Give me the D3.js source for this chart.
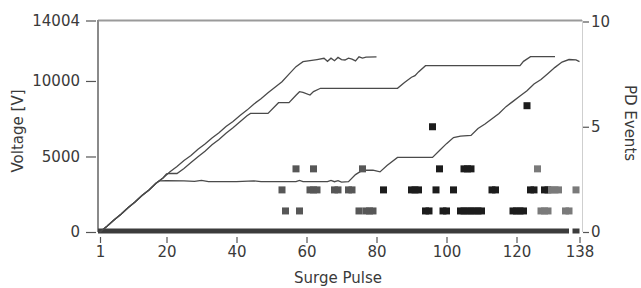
<!DOCTYPE html>
<html>
<head>
<meta charset="utf-8">
<script src="https://cdn.jsdelivr.net/npm/d3@7"></script>
<style>
  body { margin: 0; background: #fff; }
  svg { display: block; }
  text { font-family: "DejaVu Sans", sans-serif; fill: #3a3a3a; }
</style>
</head>
<body>
<div id="chart"></div>
<script>
// voltage curves, [pulse, volts]
var curve1 = [[1,0],[3,380],[5,790],[7,1170],[9,1600],[11,1980],[13,2420],[15,2780],[17,3230],[19,3580],
  [21,3990],[23,4330],[25,4740],[27,5060],[29,5480],[31,5820],[33,6230],[35,6570],[37,6980],[39,7320],
  [41,7720],[43,8070],[45,8480],[47,8820],[49,9220],[51,9580],[53,9950],[55,10450],[57,10950],[59,11280],
  [61,11350],[63,11420],[65,11500],[66,11300],[67,11510],[68,11340],[69,11560],[70,11420],[71,11390],
  [72,11510],[73,11450],[74,11330],[75,11600],[76,11520],[77,11580],[80,11600]];

var curve2 = [[1,0],[3,380],[5,790],[7,1170],[9,1600],[11,1980],[13,2420],[15,2780],[17,3230],[19,3580],
  [20,3850],[21,3880],[23,3875],[25,4210],[27,4600],[29,4990],[31,5350],[33,5780],[35,6130],[37,6540],
  [39,6900],[41,7300],[43,7700],[44,7856],[49,7856],[52,8560],[55,8560],[57,9050],[58,9290],[59,9250],
  [61,9071],[62,9300],[64,9516],[86,9516],[88,9900],[90,10250],[91,10350],[92,10600],[94,11015],
  [121,11015],[122,11300],[124,11612],[131,11612]];

var curve3 = [[1,0],[3,380],[5,790],[7,1170],[9,1600],[11,1980],[13,2420],[15,2780],[17,3230],[18,3380],
  [20,3400],[25,3380],[28,3350],[30,3420],[32,3340],[40,3330],[45,3380],[47,3330],[57,3330],[58,3420],
  [59,3330],[66,3330],[67,3420],[68,3330],[69,3400],[70,3300],[72,3330],[74,3800],[76,4090],[79,4090],
  [81,3980],[83,4400],[86,4937],[96,4937],[98,5400],[100,5850],[102,6250],[104,6350],[107,6400],
  [109,6850],[111,7150],[113,7500],[115,7850],[117,8300],[119,8650],[121,9000],[123,9350],[125,9800],
  [127,10100],[129,10500],[131,10900],[133,11250],[135,11420],[137,11400],[138,11280]];

// PD events [pulse, count]
var pdGray = [[57,3],[62,3],[76,3],[53,2],[61,2],[62,2],[63,2],[68,2],[69,2],[72,2],[73,2],
  [54,1],[58,1],[75,1],[77,1],[78,1],[79,1]];
var pdBlack = [[82,2],[90,2],[91,2],[92,2],[97,2],[102,2],[113,2],[114,2],[124,2],[125,2],[128,2],[129,2],
  [94,1],[95,1],[99,1],[100,1],[104,1],[105,1],[106,1],[107,1],[108,1],[109,1],[110,1],
  [119,1],[120,1],[121,1],[122,1],[98,3],[105,3],[106,3],[107,3],[96,5],[123,6]];
var pdLight = [[126,3],[130,2],[131,2],[132,2],[137,2],[127,1],[128,1],[129,1],[134,1],[135,1]];
// runs of pulses with zero PD events
var zeroRuns = [[1,134],[137,137]];

var xTicks = [1,20,40,60,80,100,120,138];
var vTicks = [0,5000,10000,14004];
var pdTicks = [0,5,10];

var W = 641, H = 288;
var svg = d3.select("#chart").append("svg").attr("width", W).attr("height", H);

var x = d3.scaleLinear().domain([1,138]).range([100,579.5]);
var y = d3.scaleLinear().domain([0,14004]).range([232,20.5]);
var y2 = d3.scaleLinear().domain([0,10]).range([232,21.5]);

// frame
svg.append("line").attr("x1",98).attr("x2",582).attr("y1",20.5).attr("y2",20.5)
  .style("stroke","#9a9a9a").style("stroke-width",2);
svg.append("line").attr("x1",98).attr("x2",98).attr("y1",20).attr("y2",232)
  .style("stroke","#8a8a8a").style("stroke-width",2);
svg.append("line").attr("x1",582.5).attr("x2",582.5).attr("y1",20).attr("y2",232)
  .style("stroke","#cfcfcf").style("stroke-width",1);

// zero band
svg.append("g").selectAll("rect").data(zeroRuns).enter().append("rect")
  .attr("x", function(d){ return Math.max(98, x(d[0]) - 3.5); })
  .attr("width", function(d){ return x(d[1]) + 3.5 - Math.max(98, x(d[0]) - 3.5); })
  .attr("y", 228.5).attr("height", 5)
  .style("fill", "#3c3c3c");

// voltage lines
var line = d3.line().x(function(d){ return x(d[0]); }).y(function(d){ return y(d[1]); });
svg.append("g").selectAll("path").data([curve1, curve2, curve3]).enter().append("path")
  .attr("d", line)
  .style("fill","none").style("stroke","#4a4a4a").style("stroke-width",1.3);

// PD squares
var sets = [[pdGray,"#575757"],[pdBlack,"#1c1c1c"],[pdLight,"#7a7a7a"]];
sets.forEach(function(s){
  svg.append("g").selectAll("rect").data(s[0]).enter().append("rect")
    .attr("x", function(d){ return x(d[0]) - 3.5; })
    .attr("y", function(d){ return y2(d[1]) - 3.5; })
    .attr("width", 7).attr("height", 7)
    .style("fill", s[1]);
});

// axes
var gl = svg.append("g").attr("transform","translate(96,0)")
  .call(d3.axisLeft(y).tickValues(vTicks).tickSize(10).tickPadding(6).tickFormat(d3.format("d")));
var gb = svg.append("g").attr("transform","translate(0,237)")
  .call(d3.axisBottom(x).tickValues(xTicks).tickSize(6).tickPadding(3).tickFormat(d3.format("d")));
var gr = svg.append("g").attr("transform","translate(583,0)")
  .call(d3.axisRight(y2).tickValues(pdTicks).tickSize(6).tickPadding(2));
[gl,gb,gr].forEach(function(g){
  g.select(".domain").remove();
  g.selectAll(".tick line").style("stroke","#555").style("stroke-width",1.2);
  g.selectAll(".tick text").style("font-size","15px").style("font-family","DejaVu Sans").style("fill","#3a3a3a");
});

// titles
svg.append("text").attr("transform","translate(18,131) rotate(-90)")
  .attr("text-anchor","middle").attr("dominant-baseline","central")
  .style("font-size","15px").text("Voltage [V]");
svg.append("text").attr("transform","translate(630,123) rotate(90)")
  .attr("text-anchor","middle").attr("dominant-baseline","central")
  .style("font-size","15px").text("PD Events");
svg.append("text").attr("x",338).attr("y",283)
  .attr("text-anchor","middle")
  .style("font-size","15px").text("Surge Pulse");
</script>
</body>
</html>
